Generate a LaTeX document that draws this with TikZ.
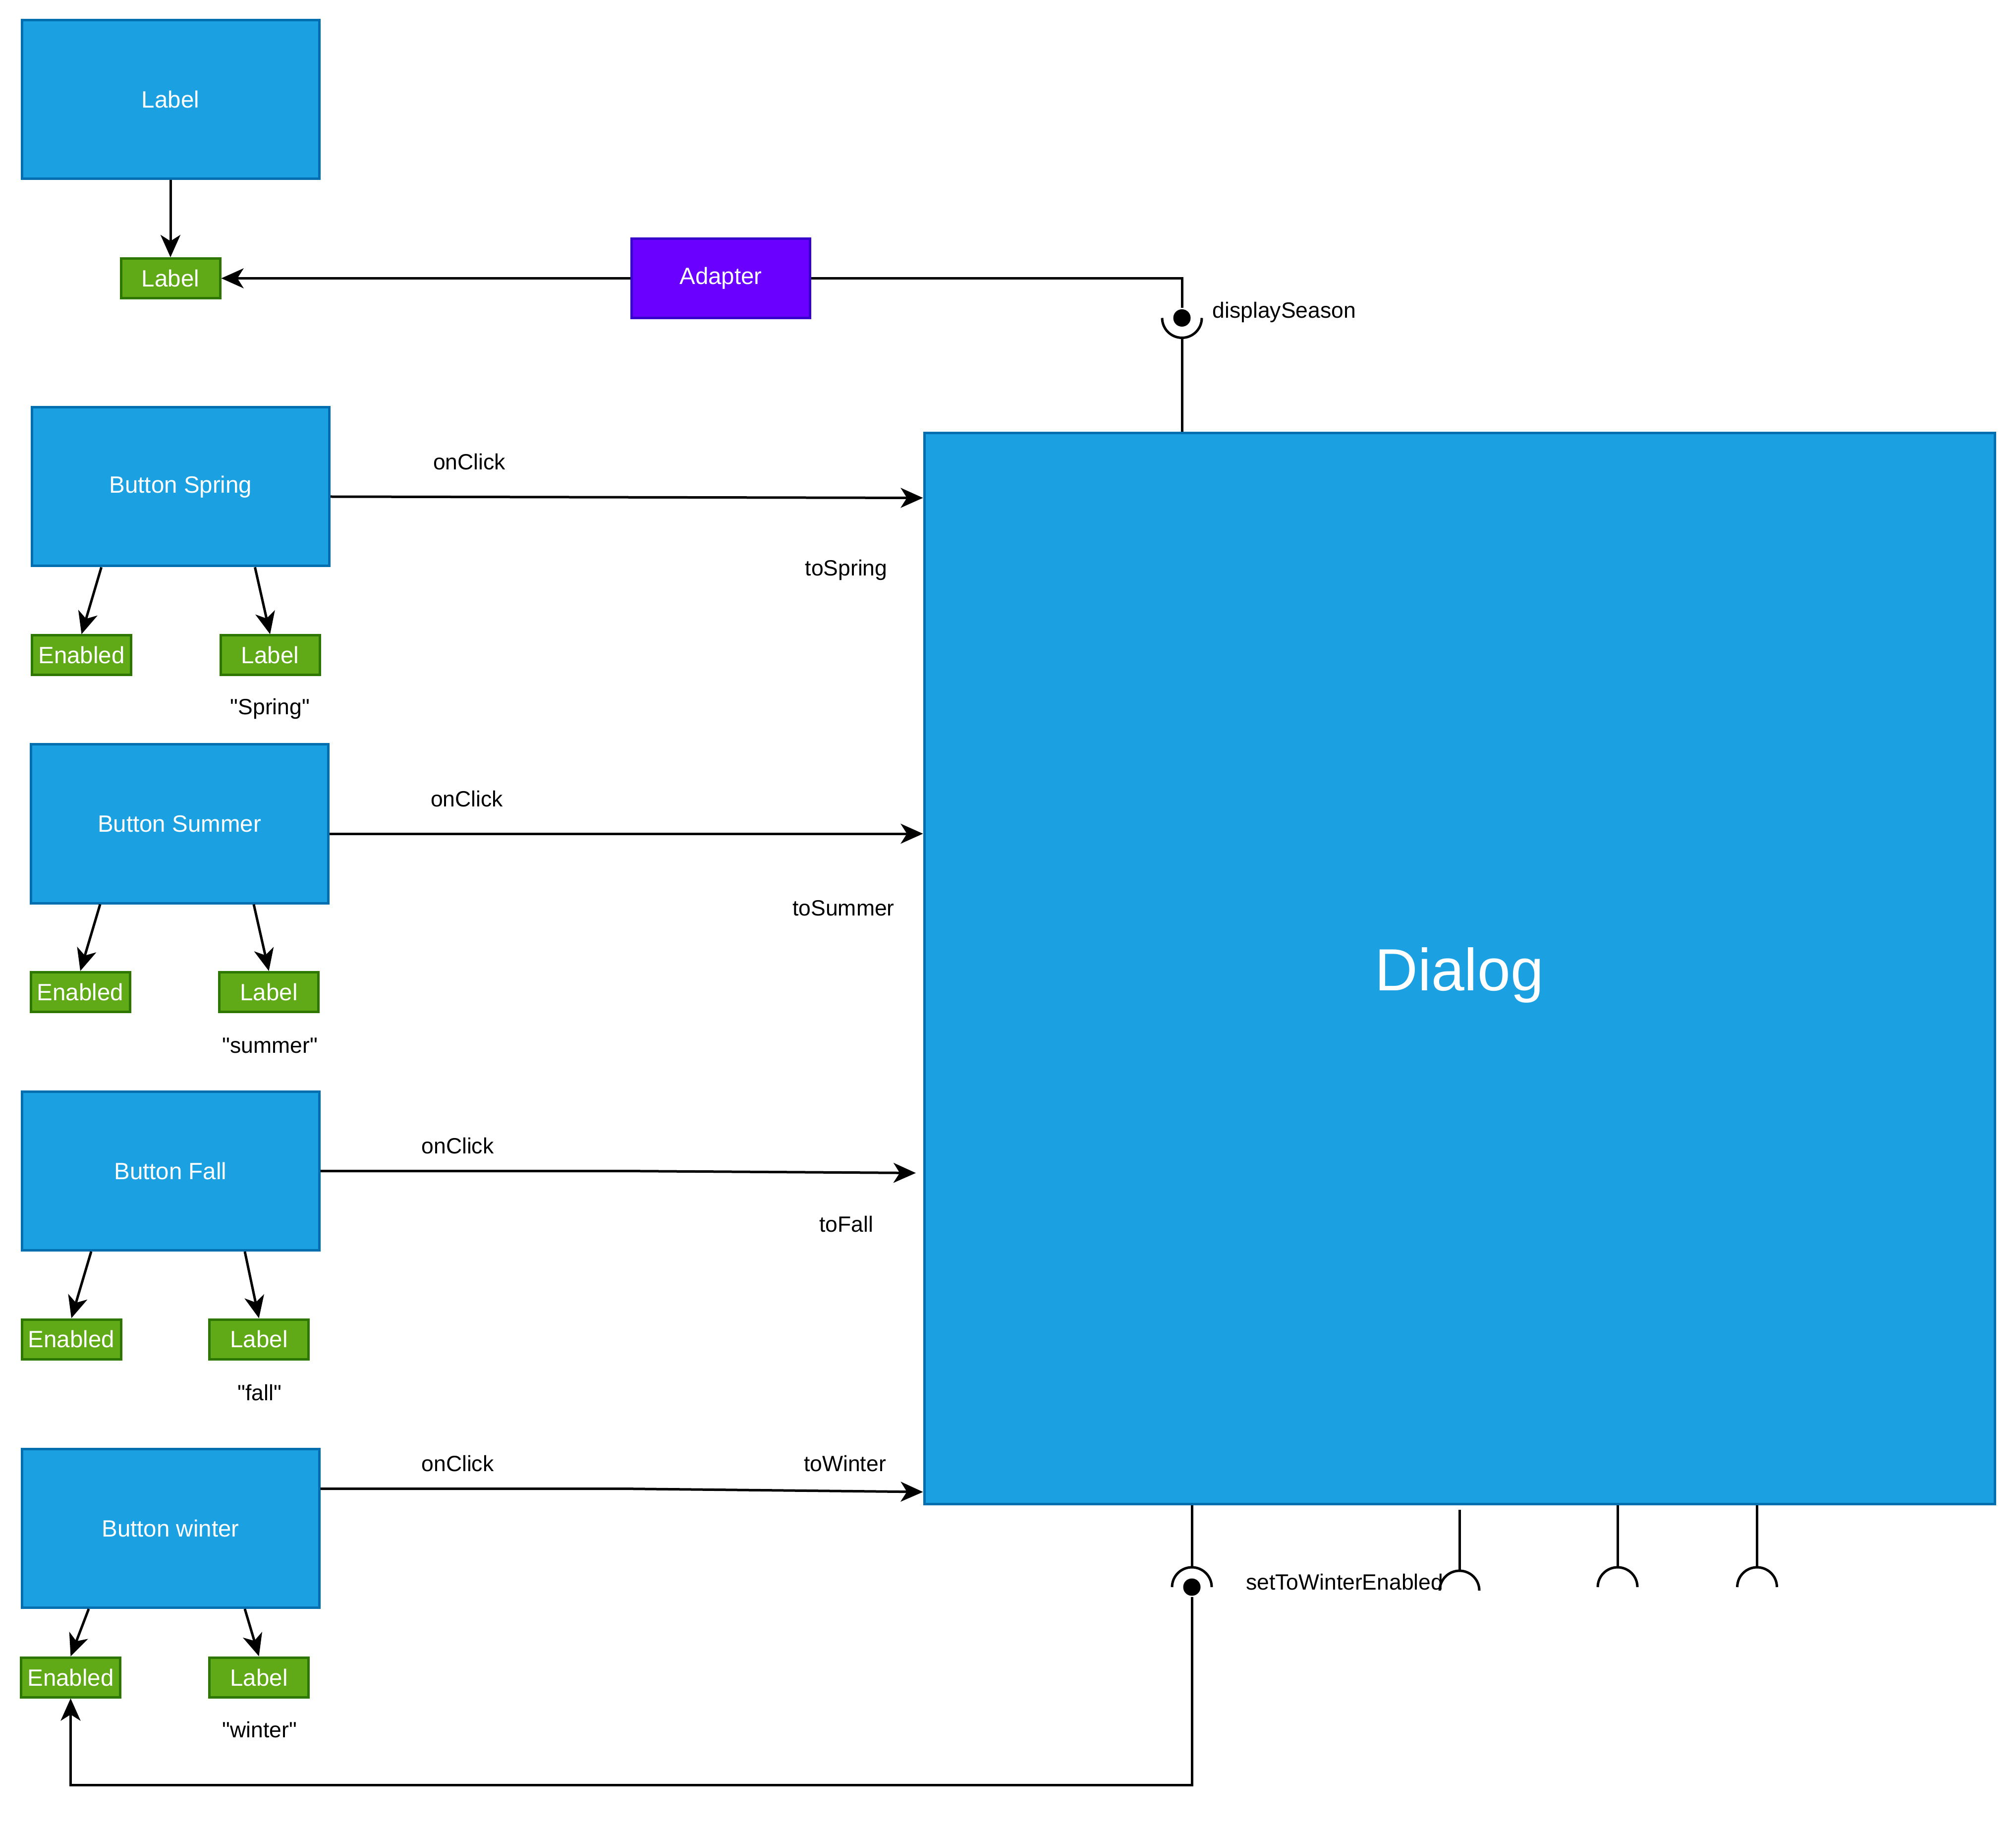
\documentclass[tikz,border=0pt]{standalone}
\usepackage{fontspec}
\setmainfont{Liberation Sans}
\usepackage{tikz}
\usetikzlibrary{arrows.meta,positioning}

\definecolor{uiblue}{HTML}{1BA1E2}
\definecolor{uibluedark}{HTML}{006EAF}
\definecolor{propgreen}{HTML}{60A917}
\definecolor{propgreendark}{HTML}{2D7600}
\definecolor{adaptviolet}{HTML}{6A00FF}
\definecolor{adaptvioletdark}{HTML}{3700CC}

\begin{document}
\begin{tikzpicture}[
  x=1pt, y=-1pt, line width=1pt,
  box/.style={draw=uibluedark, fill=uiblue, text=white, minimum width=120pt, minimum height=64pt, inner sep=0pt, font=\fontsize{9.5}{11}\selectfont},
  propbox/.style={draw=propgreendark, fill=propgreen, text=white, minimum width=40pt, minimum height=16pt, inner sep=0pt, font=\fontsize{9.5}{11}\selectfont},
  adapterbox/.style={draw=adaptvioletdark, fill=adaptviolet, text=white, minimum width=72pt, minimum height=32pt, inner sep=0pt, font=\fontsize{9.5}{11}\selectfont},
  dialogbox/.style={draw=uibluedark, fill=uiblue, text=white, minimum size=432pt, inner sep=0pt, text height=22.7pt, text depth=5pt, font=\fontsize{24}{28}\selectfont},
  arrow/.style={-{Stealth[length=9pt, width=8pt, inset=2.5pt]}},
  tag/.style={font=\fontsize{8.9}{11}\selectfont, inner sep=0pt},
  ball/.style={circle, fill=black, minimum size=7pt, inner sep=0pt}
]
\useasboundingbox (0,0) rectangle (813.6,737.6);

\node[box] (lbltop) at (68.8,40.2) {Label};
\node[propbox] (lblprop) at (68.8,112.3) {Label};
\node[adapterbox] (adapter) at (290.9,112.3) {Adapter};
\node[dialogbox] (dialog) at (589,390.8) {Dialog};

% season buttons
\node[box] (spring) at (72.9,196.4) {Button Spring};
\node[propbox] (springen) at (32.9,264.4) {Enabled};
\node[propbox] (springlbl) at (109,264.4) {Label};
\node[tag] (springtxt) at (109,286) {\textquotedbl Spring\textquotedbl};

\node[box] (summer) at (72.4,332.4) {Button Summer};
\node[propbox] (summeren) at (32.4,400.3) {Enabled};
\node[propbox] (summerlbl) at (108.5,400.3) {Label};
\node[tag] (summertxt) at (109,421.9) {\textquotedbl summer\textquotedbl};

\node[box] (fall) at (68.8,472.5) {Button Fall};
\node[propbox] (fallen) at (28.8,540.4) {Enabled};
\node[propbox] (falllbl) at (104.5,540.4) {Label};
\node[tag] (falltxt) at (104.8,562) {\textquotedbl fall\textquotedbl};

\node[box] (winter) at (68.8,616.7) {Button winter};
\node[propbox] (winteren) at (28.5,676.8) {Enabled};
\node[propbox] (winterlbl) at (104.5,676.8) {Label};
\node[tag] (wintertxt) at (104.8,698) {\textquotedbl winter\textquotedbl};

% edge texts
\node[tag] (clickspring) at (189.4,186.3) {onClick};
\node[tag] (tospring) at (341.5,229.9) {toSpring};
\node[tag] (clicksummer) at (188.4,322.3) {onClick};
\node[tag] (tosummer) at (340.4,366.4) {toSummer};
\node[tag] (clickfall) at (184.7,462.4) {onClick};
\node[tag] (tofall) at (341.5,494) {toFall};
\node[tag] (clickwinter) at (184.7,590.6) {onClick};
\node[tag] (towinter) at (341,590.6) {toWinter};

% interface balls and sockets
\node[ball] (dsball) at (477,128.3) {};
\node[tag, anchor=west] (dstxt) at (488.8,126) {displaySeason};
\node[ball] (wball) at (481,640.4) {};
\node[tag, anchor=west] (wtxt) at (502.3,638.3) {setToWinterEnabled};
\coordinate (sockA) at (589,641.8);
\coordinate (sockB) at (652.8,640.4);
\coordinate (sockC) at (709.1,640.4);
\coordinate (wturn) at (481,720.3);
\coordinate (fallin) at (369.6,473.3);

\draw[arrow] (lbltop) -- (lblprop);
\draw[arrow] (adapter) -- (lblprop);
\draw (adapter.east) -| (dsball.north);
\draw ([xshift=-8pt]dsball.center) arc[start angle=180, end angle=360, radius=8pt];
\draw ([yshift=-8pt]dsball.center) -- (dsball |- dialog.north);

\draw[arrow] ([xshift=-32pt]spring.south) -- (springen.north);
\draw[arrow] ([xshift=30pt]spring.south) -- (springlbl.north);
\draw[arrow] ([xshift=-32pt]summer.south) -- (summeren.north);
\draw[arrow] ([xshift=30pt]summer.south) -- (summerlbl.north);
\draw[arrow] ([xshift=-32pt]fall.south) -- (fallen.north);
\draw[arrow] ([xshift=30pt]fall.south) -- (falllbl.north);
\draw[arrow] ([xshift=-33pt]winter.south) -- (winteren.north);
\draw[arrow] ([xshift=30pt]winter.south) -- (winterlbl.north);

\draw[arrow] ([yshift=-4pt]spring.east) -- ([yshift=-4.5pt]spring.east -| dialog.west);
\draw[arrow] ([yshift=-4pt]summer.east) -- ([yshift=-4pt]summer.east -| dialog.west);
\draw[arrow] (fall.east) -- ++(122,0) -- (fallin);
\draw[arrow] ([yshift=16pt]winter.east) -- ++(122,0) -- ([yshift=5.3pt]dialog.south west);

\draw (wball |- dialog.south) -- ([yshift=8pt]wball.center);
\draw ([xshift=-8pt]wball.center) arc[start angle=180, end angle=0, radius=8pt];
\draw[arrow] (wball.south) -- (wturn) -| (winteren.south);

\draw ([yshift=-1.8pt]sockA |- dialog.south) -- ([yshift=8pt]sockA);
\draw ([xshift=-8pt]sockA) arc[start angle=180, end angle=0, radius=8pt];
\draw (sockB |- dialog.south) -- ([yshift=8pt]sockB);
\draw ([xshift=-8pt]sockB) arc[start angle=180, end angle=0, radius=8pt];
\draw (sockC |- dialog.south) -- ([yshift=8pt]sockC);
\draw ([xshift=-8pt]sockC) arc[start angle=180, end angle=0, radius=8pt];

\end{tikzpicture}
\end{document}
